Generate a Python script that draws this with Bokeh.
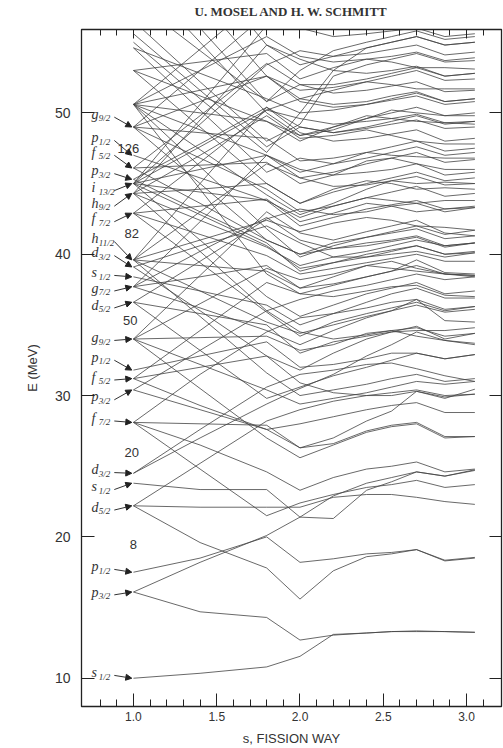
import math
from bokeh.plotting import figure
from bokeh.models import Range1d, LinearAxis, FixedTicker, Arrow, NormalHead, ColumnDataSource
from bokeh.core.properties import value
from bokeh.embed import file_html
from bokeh.resources import INLINE

# ---- data -------------------------------------------------------------
S_POINTS = [1.0, 1.4, 1.8, 2.0, 2.2, 2.4, 2.55, 2.7, 2.87, 3.05]

# N = 0..2
lv_s12a = [10.0, 10.35, 10.8, 11.55, 13.1, 13.2, 13.3, 13.3, 13.3, 13.25]
lv_p32a = [16.1, 14.7, 14.3, 12.7, 13.05, 13.2, 13.3, 13.35, 13.3, 13.25]
lv_p32b = [16.1, 18.2, 20.1, 21.4, 22.9, 23.8, 24.2, 24.6, 24.3, 24.75]
lv_p12a = [17.5, 18.5, 20.0, 18.2, 18.45, 18.8, 18.9, 19.1, 18.3, 18.5]
lv_d52a = [22.2, 19.6, 17.8, 15.6, 17.6, 18.6, 18.8, 19.1, 18.35, 18.55]
lv_d52b = [22.2, 22.1, 22.1, 22.1, 22.8, 23.0, 23.0, 22.8, 22.5, 22.3]
lv_d52c = [22.2, 25.2, 28.2, 29.0, 29.6, 30.0, 30.2, 30.4, 30.0, 30.1]
lv_s12b = [23.8, 23.35, 23.35, 21.4, 21.3, 23.3, 23.9, 24.6, 24.3, 24.7]
lv_d32a = [24.5, 27.6, 30.6, 31.5, 31.8, 32.2, 32.3, 31.9, 31.4, 31.0]
lv_d32b = [24.5, 27.0, 29.4, 30.5, 31.5, 32.8, 33.6, 34.5, 33.9, 33.6]
# N = 3
lv_f72a = [28.1, 24.8, 21.5, 22.4, 23.0, 23.5, 23.7, 24.0, 23.5, 23.7]
lv_f72b = [28.1, 26.5, 24.6, 23.3, 24.2, 24.8, 25.0, 25.3, 24.6, 24.8]
lv_f72c = [28.1, 28.0, 27.9, 26.3, 26.6, 27.5, 27.9, 28.1, 27.1, 27.1]
lv_f72d = [28.1, 31.5, 34.5, 35.5, 35.8, 36.2, 36.6, 36.8, 35.3, 35.2]
lv_p32c = [30.4, 29.0, 27.6, 28.0, 28.5, 29.0, 29.3, 29.5, 28.8, 28.8]
lv_p32d = [30.4, 33.2, 36.0, 34.5, 34.0, 34.3, 34.6, 34.8, 34.2, 34.4]
lv_f52a = [31.2, 29.3, 27.6, 26.3, 27.0, 28.2, 28.9, 30.3, 29.9, 30.1]
lv_f52b = [31.2, 32.0, 32.8, 30.9, 30.2, 30.0, 30.0, 30.3, 29.8, 30.45]
lv_f52c = [31.2, 34.6, 38.0, 37.2, 37.0, 37.4, 37.7, 37.8, 37.1, 37.0]
lv_p12b = [31.8, 32.8, 33.8, 32.0, 32.2, 32.6, 33.0, 33.0, 32.6, 32.9]
# N = 4
lv_g92a = [34.0, 30.5, 27.0, 25.6, 26.5, 27.4, 27.8, 28.0, 27.0, 27.1]
lv_g92b = [34.0, 32.2, 30.4, 29.4, 29.8, 30.2, 30.6, 31.0, 30.8, 31.0]
lv_g92c = [34.0, 34.1, 34.2, 33.2, 33.6, 34.4, 34.6, 34.2, 33.9, 33.7]
lv_g92d = [34.0, 36.5, 39.0, 38.2, 38.6, 39.2, 39.0, 38.8, 38.6, 38.5]
lv_g92e = [34.0, 38.5, 43.0, 41.5, 41.0, 41.6, 42.0, 42.4, 41.5, 41.3]
lv_d52d = [36.6, 33.2, 29.8, 30.6, 31.4, 32.0, 32.5, 33.0, 32.6, 32.9]
lv_d52e = [36.6, 35.8, 35.0, 33.0, 33.8, 34.2, 34.5, 34.6, 34.6, 34.8]
lv_d52f = [36.6, 39.5, 42.5, 43.2, 42.8, 43.0, 43.4, 43.6, 43.0, 43.3]
lv_g72a = [37.7, 36.2, 34.6, 33.6, 34.6, 35.5, 36.0, 36.8, 36.1, 36.3]
lv_g72b = [37.7, 38.4, 39.2, 37.6, 38.4, 39.2, 39.5, 39.0, 38.6, 38.4]
lv_g72c = [37.7, 40.2, 42.6, 41.0, 40.4, 40.6, 40.9, 41.2, 40.5, 40.8]
lv_g72d = [37.7, 42.3, 47.0, 46.0, 45.6, 45.8, 46.0, 46.4, 45.6, 45.8]
lv_s12c = [38.4, 37.4, 36.4, 35.0, 35.8, 36.6, 37.2, 37.6, 36.9, 36.9]
lv_d32c = [39.1, 36.0, 32.8, 31.8, 33.0, 34.0, 34.5, 34.9, 34.0, 34.4]
lv_d32d = [39.1, 40.6, 42.0, 40.8, 39.8, 39.8, 40.0, 40.2, 39.8, 40.1]
# N = 5
lv_h112a = [39.6, 35.6, 31.6, 30.0, 30.4, 30.8, 31.2, 31.5, 31.0, 31.2]
lv_h112b = [39.6, 37.4, 35.2, 34.4, 35.0, 35.6, 36.0, 36.4, 35.9, 36.1]
lv_h112c = [39.6, 39.2, 38.8, 37.6, 37.9, 38.4, 38.8, 39.6, 38.7, 38.6]
lv_h112d = [39.6, 41.0, 42.4, 41.6, 42.2, 42.6, 42.4, 42.0, 41.9, 41.7]
lv_h112e = [39.6, 43.0, 46.4, 45.4, 44.8, 44.9, 45.2, 45.5, 44.9, 45.0]
lv_h112f = [39.6, 45.0, 50.4, 48.6, 48.0, 48.2, 48.5, 48.8, 48.0, 48.2]
lv_f72e = [42.9, 39.4, 35.9, 34.2, 35.2, 35.8, 36.2, 36.6, 36.0, 36.3]
lv_f72f = [42.9, 41.4, 39.9, 38.6, 39.0, 39.4, 39.7, 40.0, 39.5, 39.5]
lv_f72g = [42.9, 43.4, 43.9, 42.3, 42.9, 43.6, 43.4, 43.0, 43.2, 43.3]
lv_f72h = [42.9, 46.5, 50.2, 49.6, 49.2, 49.4, 49.6, 49.9, 49.3, 49.4]
lv_h92a = [44.3, 40.2, 36.0, 36.8, 37.4, 37.8, 38.2, 38.6, 38.2, 38.4]
lv_h92b = [44.3, 42.4, 40.5, 39.2, 39.8, 40.2, 40.6, 41.0, 40.6, 40.8]
lv_h92c = [44.3, 44.6, 45.0, 43.6, 44.6, 45.2, 45.0, 44.6, 44.7, 44.6]
lv_h92d = [44.3, 47.0, 49.8, 48.2, 48.4, 48.8, 48.4, 48.0, 47.8, 47.8]
lv_h92e = [44.3, 49.5, 54.8, 53.8, 53.0, 52.8, 53.0, 53.3, 52.6, 52.8]
lv_p32e = [45.3, 43.0, 40.8, 38.8, 39.4, 40.0, 40.3, 40.6, 40.0, 40.1]
lv_p32f = [45.3, 47.8, 50.4, 49.0, 48.6, 48.9, 49.2, 49.5, 48.9, 49.0]
lv_f52d = [46.1, 43.6, 41.0, 40.0, 40.8, 41.2, 41.5, 41.8, 41.1, 41.3]
lv_f52e = [46.1, 46.3, 46.5, 45.0, 45.6, 46.6, 46.8, 46.4, 46.0, 46.0]
lv_f52f = [46.1, 49.8, 53.5, 52.0, 51.4, 51.6, 51.9, 52.2, 51.5, 51.6]
lv_p12c = [47.0, 45.4, 43.8, 42.0, 42.6, 43.2, 43.5, 43.8, 43.2, 43.4]
# N = 6
lv_i132a = [45.0, 41.0, 37.0, 35.6, 36.4, 37.2, 37.6, 38.0, 37.2, 37.4]
lv_i132b = [45.0, 42.8, 40.6, 39.0, 39.4, 39.8, 40.2, 40.6, 40.0, 40.2]
lv_i132c = [45.0, 44.4, 43.8, 42.6, 43.4, 44.0, 43.8, 43.6, 43.8, 43.8]
lv_i132d = [45.0, 46.0, 47.0, 45.8, 46.4, 47.2, 47.0, 46.9, 46.8, 46.8]
lv_i132e = [45.0, 47.6, 50.2, 51.0, 50.6, 50.8, 51.2, 51.5, 50.8, 51.0]
lv_i132f = [45.0, 49.2, 53.4, 54.4, 54.0, 54.2, 54.5, 54.8, 54.1, 54.3]
lv_i132g = [45.0, 50.6, 56.2, 57.5, 57.0, 57.2, 57.4, 57.6, 57.0, 57.2]
lv_g92f = [49.0, 45.0, 41.0, 40.0, 40.4, 40.8, 41.0, 41.3, 40.6, 40.8]
lv_g92g = [49.0, 46.8, 44.6, 43.0, 43.4, 44.0, 44.4, 44.8, 44.1, 44.3]
lv_g92h = [49.0, 48.6, 48.2, 46.6, 46.8, 47.2, 47.6, 48.0, 47.3, 47.5]
lv_g92i = [49.0, 50.8, 52.6, 51.6, 51.8, 52.2, 52.0, 51.7, 51.7, 51.7]
lv_g92j = [49.0, 53.0, 57.0, 56.0, 55.4, 55.6, 55.8, 56.0, 55.4, 55.6]
lv_k1 = [50.6, 46.2, 41.8, 39.8, 40.6, 41.2, 41.6, 42.0, 41.4, 41.7]
lv_k2 = [50.6, 47.4, 44.2, 42.8, 43.6, 44.6, 45.2, 45.0, 45.1, 45.0]
lv_k3 = [50.6, 48.8, 47.0, 45.4, 45.8, 46.4, 46.8, 47.2, 46.5, 46.7]
lv_k4 = [50.6, 50.0, 49.4, 48.0, 49.0, 49.8, 49.6, 49.4, 49.3, 49.2]
lv_k5 = [50.6, 51.6, 52.6, 50.8, 50.4, 50.6, 50.9, 51.2, 50.6, 50.8]
lv_k6 = [50.6, 53.0, 55.4, 54.0, 53.6, 53.8, 54.0, 54.3, 53.7, 53.9]
lv_k7 = [50.6, 44.6, 38.6, 37.2, 37.8, 38.4, 38.8, 39.2, 38.6, 38.5]
lv_k8 = [50.6, 54.5, 58.4, 58.0, 57.6, 57.8, 58.0, 58.2, 57.6, 57.8]
lv_l1 = [53.0, 49.0, 45.0, 43.6, 44.4, 45.0, 45.4, 45.8, 45.2, 45.4]
lv_l2 = [53.0, 51.2, 49.4, 48.4, 48.8, 49.6, 50.2, 50.0, 49.8, 49.8]
lv_l3 = [53.0, 53.6, 54.2, 52.4, 53.2, 53.8, 53.6, 53.2, 53.2, 53.1]
lv_l4 = [54.6, 50.2, 45.8, 46.8, 46.4, 46.8, 47.2, 47.6, 47.0, 47.2]
lv_l5 = [54.6, 52.8, 51.0, 50.0, 50.2, 50.6, 51.0, 51.4, 50.8, 51.0]
lv_l6 = [55.6, 51.6, 47.6, 49.0, 48.6, 49.0, 49.4, 49.8, 49.2, 49.4]
lv_l7 = [55.0, 51.0, 47.2, 50.0, 53.0, 54.6, 55.0, 55.4, 54.8, 55.0]
lv_l8 = [56.5, 52.2, 48.0, 49.2, 52.6, 53.4, 53.8, 54.2, 53.6, 53.7]
# N = 7 intruders coming from above
lv_m1 = [60.0, 55.0, 50.0, 48.4, 49.0, 49.6, 50.0, 50.4, 49.8, 50.0]
lv_m2 = [62.0, 56.0, 50.8, 52.0, 52.0, 52.4, 52.8, 53.2, 52.6, 52.8]
lv_m3 = [64.0, 58.0, 52.6, 51.0, 51.6, 52.2, 52.6, 53.0, 52.3, 52.4]
lv_m4 = [66.0, 60.4, 54.8, 53.4, 54.0, 54.6, 55.0, 55.4, 54.8, 55.0]
lv_m5 = [58.0, 54.4, 50.8, 53.0, 54.4, 55.0, 55.4, 55.8, 55.2, 55.4]

LEVELS = [lv_s12a, lv_p32a, lv_p32b, lv_p12a, lv_d52a, lv_d52b, lv_d52c, lv_s12b, lv_d32a, lv_d32b,
          lv_f72a, lv_f72b, lv_f72c, lv_f72d, lv_p32c, lv_p32d, lv_f52a, lv_f52b, lv_f52c, lv_p12b,
          lv_g92a, lv_g92b, lv_g92c, lv_g92d, lv_g92e, lv_d52d, lv_d52e, lv_d52f, lv_g72a, lv_g72b,
          lv_g72c, lv_g72d, lv_s12c, lv_d32c, lv_d32d,
          lv_h112a, lv_h112b, lv_h112c, lv_h112d, lv_h112e, lv_h112f, lv_f72e, lv_f72f, lv_f72g, lv_f72h,
          lv_h92a, lv_h92b, lv_h92c, lv_h92d, lv_h92e, lv_p32e, lv_p32f, lv_f52d, lv_f52e, lv_f52f, lv_p12c,
          lv_i132a, lv_i132b, lv_i132c, lv_i132d, lv_i132e, lv_i132f, lv_i132g,
          lv_g92f, lv_g92g, lv_g92h, lv_g92i, lv_g92j,
          lv_k1, lv_k2, lv_k3, lv_k4, lv_k5, lv_k6, lv_k7, lv_k8,
          lv_l1, lv_l2, lv_l3, lv_l4, lv_l5, lv_l6, lv_l7, lv_l8,
          lv_m1, lv_m2, lv_m3, lv_m4, lv_m5]

# spherical-state labels (letter, subscript), label height and level energy at s = 1
orb_letter = ["g", "p", "f", "p", "i", "h", "f", "h", "d", "s", "g", "d", "g", "p", "f", "p", "f",
              "d", "s", "d", "p", "p", "s"]
orb_sub = ["9/2", "1/2", "5/2", "3/2", "13/2", "9/2", "7/2", "11/2", "3/2", "1/2", "7/2", "5/2", "9/2",
           "1/2", "5/2", "3/2", "7/2", "3/2", "1/2", "5/2", "1/2", "3/2", "1/2"]
orb_label_E = [49.9, 48.25, 47.2, 45.9, 44.7, 43.6, 42.5, 41.1, 40.1, 38.7, 37.6, 36.4, 34.1, 32.7,
               31.3, 29.9, 28.4, 24.75, 23.55, 22.1, 17.9, 16.1, 10.4]
orb_level_E = [49.0, 47.0, 46.1, 45.3, 45.0, 44.3, 42.9, 39.6, 39.1, 38.4, 37.7, 36.6, 34.0, 31.8,
               31.2, 30.4, 28.1, 24.5, 23.8, 22.2, 17.5, 16.1, 10.0]

magic_text = ["126", "82", "50", "20", "8"]
magic_E = [47.5, 41.5, 35.3, 25.95, 19.45]
magic_s = [0.97, 0.99, 0.98, 0.99, 1.0]

x_major = [1.0, 1.5, 2.0, 2.5, 3.0]
x_minor = [0.8, 0.9, 1.1, 1.2, 1.3, 1.4, 1.6, 1.7, 1.8, 1.9, 2.1, 2.2, 2.3, 2.4, 2.6, 2.7, 2.8, 2.9, 3.1]
y_major = [10, 20, 30, 40, 50]
header = "U. MOSEL AND H. W. SCHMITT"

# ---- figure -----------------------------------------------------------
p = figure(width=503, height=748, x_range=Range1d(0.688, 3.21), y_range=Range1d(8.0, 55.9),
           output_backend="svg", toolbar_location=None,
           min_border_left=81, min_border_right=2, min_border_top=28, min_border_bottom=41)
p.grid.visible = False
p.outline_line_color = "#222222"
p.outline_line_width = 1.3
p.background_fill_color = "white"
p.border_fill_color = "white"

AX = "#222222"
xa = p.xaxis[0]
xa.ticker = FixedTicker(ticks=x_major, minor_ticks=x_minor)
xa.major_tick_in = 13
xa.major_tick_out = 0
xa.minor_tick_in = 7
xa.minor_tick_out = 0
xa.axis_line_color = AX
xa.major_tick_line_color = AX
xa.minor_tick_line_color = AX
xa.major_label_text_font = "Liberation Sans"
xa.major_label_text_font_size = "12px"
xa.major_label_text_color = "#333333"
xa.major_label_standoff = 5
xa.major_label_overrides = {1.0: "1.0", 1.5: "1.5", 2.0: "2.0", 2.5: "2.5", 3.0: "3.0"}
xa.axis_label = "s, FISSION WAY"
xa.axis_label_text_font = "Liberation Sans"
xa.axis_label_text_font_style = "normal"
xa.axis_label_text_font_size = "13px"
xa.axis_label_text_color = "#333333"
xa.axis_label_standoff = 7

ya = p.yaxis[0]
ya.ticker = FixedTicker(ticks=y_major, minor_ticks=[])
ya.major_tick_in = 13
ya.major_tick_out = 0
ya.minor_tick_in = 0
ya.minor_tick_out = 0
ya.axis_line_color = AX
ya.major_tick_line_color = AX
ya.major_label_text_font = "Liberation Sans"
ya.major_label_text_font_size = "14px"
ya.major_label_text_color = "#333333"
ya.major_label_standoff = 11
ya.axis_label = "E (MeV)"
ya.axis_label_text_font = "Liberation Sans"
ya.axis_label_text_font_style = "normal"
ya.axis_label_text_font_size = "13px"
ya.axis_label_text_color = "#333333"
ya.axis_label_standoff = 12

blank_x = {t: "" for t in x_major}
blank_y = {t: "" for t in y_major}
top = LinearAxis(ticker=FixedTicker(ticks=x_major, minor_ticks=x_minor),
                 major_tick_in=9, major_tick_out=0, minor_tick_in=6, minor_tick_out=0,
                 major_label_overrides=blank_x, major_label_standoff=0,
                 axis_line_color=AX, major_tick_line_color=AX, minor_tick_line_color=AX,
                 axis_label=header, axis_label_text_font="Liberation Serif",
                 axis_label_text_font_style="bold", axis_label_text_font_size="13px",
                 axis_label_text_color="#333333", axis_label_standoff=11)
p.add_layout(top, "above")
right = LinearAxis(ticker=FixedTicker(ticks=y_major, minor_ticks=[]),
                   major_tick_in=12, major_tick_out=0, minor_tick_in=0, minor_tick_out=0,
                   major_label_overrides=blank_y, major_label_standoff=0,
                   axis_line_color=AX, major_tick_line_color=AX)
p.add_layout(right, "right")

# level lines
p.multi_line(xs=[S_POINTS] * len(LEVELS), ys=LEVELS, line_color="#444444", line_width=1.0, line_alpha=0.8)

# orbital labels
lab_src = ColumnDataSource(dict(
    xl=[0.748] * len(orb_letter), xs=[0.792] * len(orb_letter),
    y=orb_label_E, letter=orb_letter, sub=orb_sub))
p.text(x="xl", y="y", text="letter", source=lab_src, text_font=value("Liberation Serif"),
       text_font_style="italic", text_font_size="14px", text_color="#333333",
       text_baseline="middle", text_align="left")
p.text(x="xs", y="y", text="sub", source=lab_src, text_font=value("Liberation Serif"),
       text_font_style="italic", text_font_size="9px", text_color="#333333",
       text_baseline="middle", text_align="left", y_offset=4)

arr_src = ColumnDataSource(dict(
    x0=[0.885] * len(orb_letter), y0=[e - 0.2 for e in orb_label_E],
    x1=[0.99] * len(orb_letter), y1=orb_level_E))
p.add_layout(Arrow(source=arr_src, x_start="x0", y_start="y0", x_end="x1", y_end="y1",
                   line_color="#333333", line_width=1.0,
                   end=NormalHead(size=6, fill_color="#222222", line_color="#222222")))

# magic numbers
p.text(x=magic_s, y=magic_E, text=magic_text, text_font=value("Liberation Sans"),
       text_font_size="13px", text_color="#333333", text_align="center", text_baseline="middle")

open("out.html", "w").write(file_html(p, INLINE))
